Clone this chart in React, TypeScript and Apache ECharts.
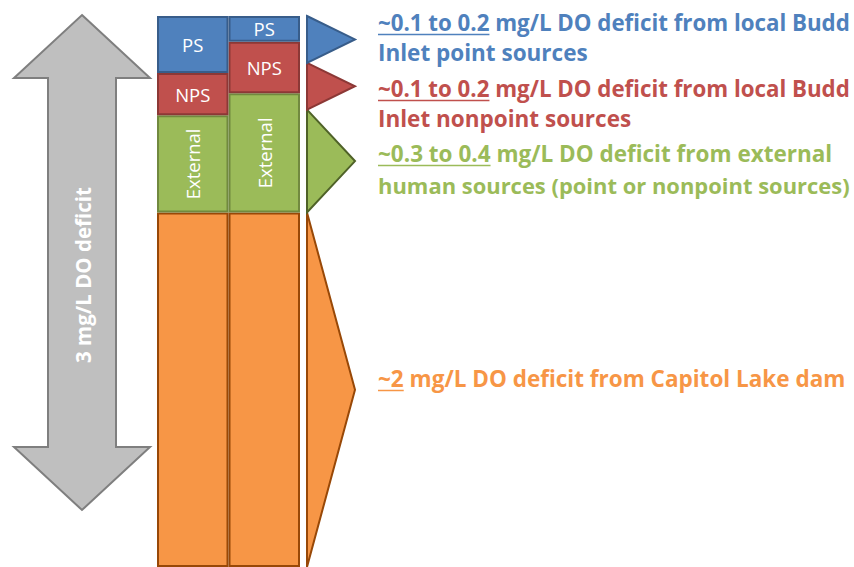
import React, { useEffect, useRef } from "react";
import * as echarts from "echarts";

// ---- data (mg/L DO deficit) ----
const categories = ["Scenario A", "Scenario B", "Range"];
const capitolLake = [1.93, 1.93, null];
const externalSrc = [0.53, 0.65, null];
const nonpointSrc = [0.23, 0.28, null];
const pointSrc = [0.31, 0.14, null];

// bracket ranges shown to the right of the bars (low, high)
const rangeLows = [0, 1.93, 2.49, 2.745];
const rangeHighs = [1.93, 2.49, 2.745, 3.0];

const segmentNames = ["Capitol Lake", "External", "NPS", "PS"];

const notePrefixes = ["~0.1 to 0.2", "~0.1 to 0.2", "~0.3 to 0.4", "~2"];
const noteFirstLines = [
  " mg/L DO deficit from local Budd",
  " mg/L DO deficit from local Budd",
  " mg/L DO deficit from external",
  " mg/L DO deficit from Capitol Lake dam",
];
const noteSecondLines = [
  "Inlet point sources",
  "Inlet nonpoint sources",
  "human sources (point or nonpoint sources)",
  "",
];
const totalLabel = "3 mg/L DO deficit";

// ---- styles ----
const FILLS = ["#F79646", "#9BBB59", "#C0504D", "#4F81BD"];
const STROKES = ["#984807", "#71893F", "#8C3836", "#385D8A"];
const TRI_STROKES = ["#984807", "#4F6228", "#8C3836", "#385D8A"];
const TEXT_COLORS = ["#4F81BD", "#C0504D", "#9BBB59", "#F79646"];
const FONT = "'Open Sans', 'Liberation Sans', sans-serif";

function measure(text: string, font: string): number {
  const c = document.createElement("canvas").getContext("2d");
  if (!c) return text.length * 10;
  c.font = font;
  return c.measureText(text).width;
}

export default function App() {
  const ref = useRef<HTMLDivElement>(null);
  useEffect(() => {
    if (!ref.current) return;
    const chart = echarts.init(ref.current, undefined, { renderer: "svg" });

    const seriesData = [capitolLake, externalSrc, nonpointSrc, pointSrc];
    const barSeries = seriesData.map((d, i) => ({
      type: "bar",
      name: segmentNames[i],
      stack: "total",
      barWidth: "100%",
      data: d.map((v) => (v == null ? "-" : v)),
      itemStyle: { color: FILLS[i], borderColor: STROKES[i], borderWidth: 2 },
      label: {
        show: i > 0,
        position: "inside",
        color: "#ffffff",
        fontFamily: FONT,
        fontSize: 18.5,
        rotate: i === 1 ? 90 : 0,
        formatter: segmentNames[i],
      },
    }));

    // annotation texts
    const baseSize = 22.5;
    const maxWidth = 472;
    const textX = 378;
    const fitSize = (t: string) => {
      const w = measure(t, `bold ${baseSize}px 'Open Sans'`);
      return w > maxWidth ? (baseSize * maxWidth) / w : baseSize;
    };
    const lineY = [
      [22, 52],
      [88, 118],
      [153, 185],
      [378, 0],
    ];
    const graphics: any[] = [];
    // gray double arrow
    const cx = 82;
    graphics.push({
      type: "polygon",
      shape: {
        points: [
          [cx, 15],
          [cx + 68, 78],
          [cx + 34, 78],
          [cx + 34, 447],
          [cx + 68, 447],
          [cx, 510],
          [cx - 68, 447],
          [cx - 34, 447],
          [cx - 34, 78],
          [cx - 68, 78],
        ],
      },
      style: { fill: "#BFBFBF", stroke: "#7F7F7F", lineWidth: 2 },
    });
    graphics.push({
      type: "text",
      x: 83,
      y: 275,
      rotation: Math.PI / 2,
      style: {
        text: totalLabel,
        fill: "#ffffff",
        fontFamily: FONT,
        fontWeight: "bold",
        fontSize: 20.5,
        align: "center",
        verticalAlign: "middle",
      },
    });
    notePrefixes.forEach((p, i) => {
      const [y1, y2] = lineY[i];
      const color = TEXT_COLORS[i];
      const first = p + noteFirstLines[i];
      const s1 = fitSize(first);
      graphics.push({
        type: "text",
        x: textX,
        y: y1,
        style: {
          text: first,
          fill: color,
          fontFamily: FONT,
          fontWeight: "bold",
          fontSize: s1,
          verticalAlign: "middle",
        },
      });
      const w = measure(p, `bold ${s1}px 'Open Sans'`);
      graphics.push({
        type: "line",
        shape: { x1: textX, y1: y1 + 12.5, x2: textX + w, y2: y1 + 12.5 },
        style: { stroke: color, lineWidth: 1.5 },
      });
      if (noteSecondLines[i]) {
        graphics.push({
          type: "text",
          x: textX,
          y: y2,
          style: {
            text: noteSecondLines[i],
            fill: color,
            fontFamily: FONT,
            fontWeight: "bold",
            fontSize: fitSize(noteSecondLines[i]),
            verticalAlign: "middle",
          },
        });
      }
    });

    chart.setOption({
      animation: false,
      grid: { left: 157, top: 16, width: 214.5, height: 552 },
      xAxis: { type: "category", data: categories, show: false },
      yAxis: { type: "value", min: 0, max: 3, show: false },
      series: [
        ...barSeries,
        {
          type: "custom",
          name: "Ranges",
          encode: { x: 0, y: [1, 2] },
          data: rangeLows.map((lo, i) => [2, lo, rangeHighs[i]]),
          renderItem: (params: any, api: any) => {
            const idx = params.dataIndex;
            const cat = api.value(0);
            const bottom = api.coord([cat, api.value(1)]);
            const top = api.coord([cat, api.value(2)]);
            const bw = api.size([1, 0])[0];
            const left = bottom[0] - bw / 2 + 7;
            const tip = left + 48;
            return {
              type: "polygon",
              shape: {
                points: [
                  [left, top[1]],
                  [tip, (top[1] + bottom[1]) / 2],
                  [left, bottom[1]],
                ],
              },
              style: { fill: FILLS[idx], stroke: TRI_STROKES[idx], lineWidth: 2 },
            };
          },
        },
      ],
      graphic: graphics,
    });
    return () => chart.dispose();
  }, []);
  return (
    <div
      ref={ref}
      style={{ position: "fixed", left: 0, top: 0, width: 854, height: 567, background: "#ffffff" }}
    />
  );
}
